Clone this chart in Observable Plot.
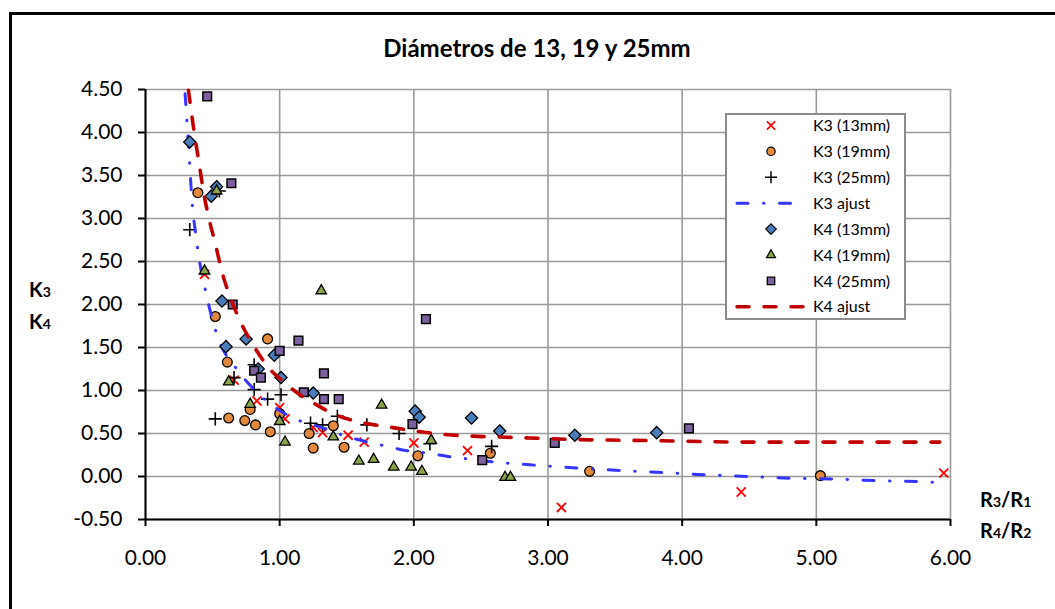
<!DOCTYPE html>
<html><head><meta charset="utf-8">
<script src="https://cdn.jsdelivr.net/npm/d3@7"></script>
<script src="https://cdn.jsdelivr.net/npm/@observablehq/plot@0.6"></script>
<style>
body{margin:0;background:#fff;}
#wrap{position:relative;width:1055px;height:609px;overflow:hidden;background:#fff;font-family:Lato,sans-serif;}
#frame{position:absolute;left:9px;top:12px;width:1100px;height:700px;border:3px solid #000;box-sizing:border-box;}
#chart,#over{position:absolute;left:0;top:0;}
#legend{position:absolute;left:725px;top:113px;}
</style></head>
<body><div id="wrap"><div id="frame"></div><div id="chart"></div><svg id="over" width="1055" height="609"></svg><svg id="legend" width="181" height="207"></svg></div>
<script>
// ---- data ----
const xTicks = [0, 1, 2, 3, 4, 5, 6];
const yTicks = [-0.5, 0, 0.5, 1, 1.5, 2, 2.5, 3, 3.5, 4, 4.5];

const k3_13_x = [0.44, 0.66, 0.83, 1.00, 1.04, 1.25, 1.32, 1.51, 1.63, 2.00, 2.40, 3.10, 4.44, 5.95];
const k3_13_y = [2.35, 1.12, 0.88, 0.80, 0.67, 0.57, 0.51, 0.48, 0.40, 0.39, 0.30, -0.36, -0.18, 0.04];

const k3_19_x = [0.39, 0.52, 0.61, 0.91, 0.78, 1.00, 0.62, 0.74, 0.82, 0.93, 1.22, 1.25, 1.40, 1.48, 2.03, 2.57, 3.31, 5.03];
const k3_19_y = [3.30, 1.86, 1.33, 1.60, 0.78, 0.73, 0.68, 0.65, 0.60, 0.52, 0.50, 0.33, 0.59, 0.34, 0.24, 0.27, 0.06, 0.01];

const k3_25_x = [0.33, 0.55, 0.66, 0.81, 0.81, 0.91, 1.01, 0.52, 1.23, 1.32, 1.43, 1.65, 1.89, 2.12, 2.58];
const k3_25_y = [2.87, 3.32, 1.15, 1.30, 1.01, 0.90, 0.95, 0.67, 0.62, 0.60, 0.70, 0.60, 0.50, 0.38, 0.35];

const k3fit_x = [0.295, 0.31, 0.33, 0.35, 0.37, 0.39, 0.45, 0.53, 0.69, 0.78, 1.04, 1.18, 1.29, 1.49, 1.80, 1.95, 2.11, 2.27, 2.43, 2.59, 2.74, 2.92, 3.21, 3.54, 3.86, 4.18, 4.50, 4.80, 5.15, 5.47, 5.77, 5.93];
const k3fit_y = [4.45, 4.11, 3.61, 3.13, 2.87, 2.63, 2.14, 1.66, 1.23, 1.06, 0.73, 0.63, 0.58, 0.47, 0.35, 0.30, 0.27, 0.23, 0.20, 0.17, 0.15, 0.13, 0.10, 0.07, 0.045, 0.02, 0.0, -0.02, -0.03, -0.05, -0.06, -0.07];

const k4_13_x = [0.33, 0.53, 0.49, 0.57, 0.75, 0.60, 0.96, 0.84, 1.01, 1.25, 2.01, 2.04, 2.43, 2.64, 3.20, 3.81];
const k4_13_y = [3.89, 3.37, 3.26, 2.04, 1.60, 1.51, 1.41, 1.25, 1.15, 0.97, 0.76, 0.69, 0.68, 0.53, 0.48, 0.51];

const k4_19_x = [0.53, 0.44, 1.31, 0.62, 0.78, 1.00, 1.04, 1.40, 1.76, 1.59, 1.70, 1.85, 1.98, 2.06, 2.13, 2.68, 2.72];
const k4_19_y = [3.32, 2.39, 2.16, 1.10, 0.84, 0.64, 0.40, 0.46, 0.83, 0.18, 0.20, 0.11, 0.11, 0.06, 0.42, -0.01, -0.01];

const k4_25_x = [0.46, 0.64, 0.65, 1.14, 1.00, 1.33, 0.81, 0.86, 1.18, 1.33, 1.44, 2.09, 1.99, 2.51, 3.05, 4.05];
const k4_25_y = [4.42, 3.41, 2.00, 1.58, 1.46, 1.20, 1.23, 1.15, 0.98, 0.90, 0.90, 1.83, 0.61, 0.19, 0.39, 0.56];

const k4fit_x = [0.32, 0.34, 0.37, 0.40, 0.43, 0.47, 0.52, 0.57, 0.65, 0.72, 0.81, 0.91, 1.03, 1.15, 1.28, 1.37, 1.60, 1.80, 2.00, 2.22, 2.42, 2.62, 2.82, 3.21, 3.64, 4.03, 4.43, 5.00, 5.92];
const k4fit_y = [4.49, 4.26, 3.93, 3.64, 3.33, 3.02, 2.71, 2.38, 2.01, 1.76, 1.51, 1.28, 1.10, 0.95, 0.83, 0.75, 0.63, 0.58, 0.53, 0.49, 0.47, 0.46, 0.45, 0.43, 0.42, 0.41, 0.40, 0.40, 0.40];

const labels = ["K3 (13mm)", "K3 (19mm)", "K3 (25mm)", "K3 ajust", "K4 (13mm)", "K4 (19mm)", "K4 (25mm)", "K4 ajust"];

// ---- styles ----
const C = {red: "#ff0000", orange: "#e3893d", blue: "#4a7ebb", green: "#8aa64a", purple: "#7d60a0", fit3: "#3535ff", fit4: "#c00000"};
const zip = (xs, ys) => xs.map((x, i) => ({x, y: ys[i]}));
const fmt = d => d.toFixed(2);

const chart = Plot.plot({
  width: 1055, height: 609,
  marginLeft: 145, marginRight: 105, marginTop: 89, marginBottom: 90,
  x: {domain: [0, 6]}, y: {domain: [-0.5, 4.5]},
  style: {fontFamily: "Lato, sans-serif", fontSize: "21px", color: "#000", background: "transparent", overflow: "visible"},
  marks: [
    Plot.gridX(xTicks, {stroke: "#9a9a9a", strokeOpacity: 1, strokeWidth: 1.6}),
    Plot.gridY(yTicks, {stroke: "#9a9a9a", strokeOpacity: 1, strokeWidth: 1.6}),
    Plot.axisX(xTicks, {tickSize: 7, tickPadding: 24, tickFormat: fmt, label: null, fontSize: 21, strokeWidth: 2}),
    Plot.axisY(yTicks, {tickSize: 7, tickPadding: 16, tickFormat: fmt, label: null, fontSize: 21, strokeWidth: 2}),
    Plot.ruleX([0], {stroke: "#000", strokeWidth: 2}),
    Plot.ruleY([-0.5], {stroke: "#000", strokeWidth: 2}),
    Plot.dot(zip(k3_13_x, k3_13_y), {x: "x", y: "y", symbol: "times", r: 4.2, stroke: C.red, strokeWidth: 1.8, fill: "none"}),
    Plot.dot(zip(k3_19_x, k3_19_y), {x: "x", y: "y", symbol: "circle", r: 4.9, fill: C.orange, stroke: "#000", strokeWidth: 1.3}),
    Plot.dot(zip(k3_25_x, k3_25_y), {x: "x", y: "y", symbol: "plus", r: 4.3, stroke: "#000", strokeWidth: 1.6, fill: "none"}),
    Plot.line(zip(k3fit_x, k3fit_y), {x: "x", y: "y", stroke: C.fit3, strokeWidth: 3, strokeDasharray: "11,15.5,0.5,15.5", strokeLinecap: "round", curve: "monotone-x"}),
    Plot.dot(zip(k4_13_x, k4_13_y), {x: "x", y: "y", symbol: "diamond2", r: 5.5, fill: C.blue, stroke: "#000", strokeWidth: 1.3}),
    Plot.dot(zip(k4_19_x, k4_19_y), {x: "x", y: "y", symbol: "triangle", r: 3.9, fill: C.green, stroke: "#000", strokeWidth: 1.3}),
    Plot.dot(zip(k4_25_x, k4_25_y), {x: "x", y: "y", symbol: "square", r: 4.9, fill: C.purple, stroke: "#000", strokeWidth: 1.5}),
    Plot.line(zip(k4fit_x, k4fit_y), {x: "x", y: "y", stroke: C.fit4, strokeWidth: 3.6, strokeDasharray: "12,15", strokeLinecap: "round", curve: "monotone-x"})
  ]
});
document.getElementById("chart").appendChild(chart);

// ---- title and axis labels ----
const over = d3.select("#over").style("font-family", "Lato, sans-serif");
over.append("text").attr("x", 537).attr("y", 57).attr("text-anchor", "middle")
  .attr("font-weight", "bold").attr("font-size", 24).text("Diámetros de 13, 19 y 25mm");
function subLabel(x, y, parts) {
  const t = over.append("text").attr("x", x).attr("y", y).attr("font-weight", "bold").attr("font-size", 20);
  parts.forEach(([s, sub]) => t.append("tspan").attr("font-size", sub ? 14 : 20).attr("dy", 0).text(s));
}
subLabel(29, 297, [["K", 0], ["3", 1]]);
subLabel(29, 329, [["K", 0], ["4", 1]]);
subLabel(980, 507, [["R", 0], ["3", 1], ["/R", 0], ["1", 1]]);
subLabel(980, 538, [["R", 0], ["4", 1], ["/R", 0], ["2", 1]]);

// ---- legend ----
const lg = d3.select("#legend").style("font-family", "Lato, sans-serif");
lg.append("rect").attr("x", 1).attr("y", 1).attr("width", 179).attr("height", 205).attr("fill", "#fff").attr("stroke", "#8c8c8c").attr("stroke-width", 2);
const legendStyle = [
  {sym: d3.symbolTimes, size: 45, fill: "none", stroke: C.red, sw: 1.6},
  {sym: d3.symbolCircle, size: 55, fill: C.orange, stroke: "#000", sw: 1.2},
  {sym: d3.symbolPlus, size: 50, fill: "none", stroke: "#000", sw: 1.5},
  {line: C.fit3, dash: "11,15.5,0.5,15.5", w: 3},
  {sym: d3.symbolDiamond2, size: 70, fill: C.blue, stroke: "#000", sw: 1.2},
  {sym: d3.symbolTriangle, size: 35, fill: C.green, stroke: "#000", sw: 1.2},
  {sym: d3.symbolSquare, size: 55, fill: C.purple, stroke: "#000", sw: 1.3},
  {line: C.fit4, dash: "12,15", w: 3.5}
];
labels.forEach((lab, i) => {
  const cy = 12.5 + i * 25.9, s = legendStyle[i];
  if (s.line) {
    lg.append("line").attr("x1", 12).attr("x2", 80).attr("y1", cy).attr("y2", cy)
      .attr("stroke", s.line).attr("stroke-width", s.w).attr("stroke-dasharray", s.dash).attr("stroke-linecap", "round");
  } else {
    lg.append("path").attr("transform", `translate(46,${cy})`).attr("d", d3.symbol(s.sym, s.size)())
      .attr("fill", s.fill).attr("stroke", s.stroke).attr("stroke-width", s.sw);
  }
  lg.append("text").attr("x", 88).attr("y", cy).attr("dy", "0.35em").attr("font-size", 16).text(lab);
});
</script></body></html>
